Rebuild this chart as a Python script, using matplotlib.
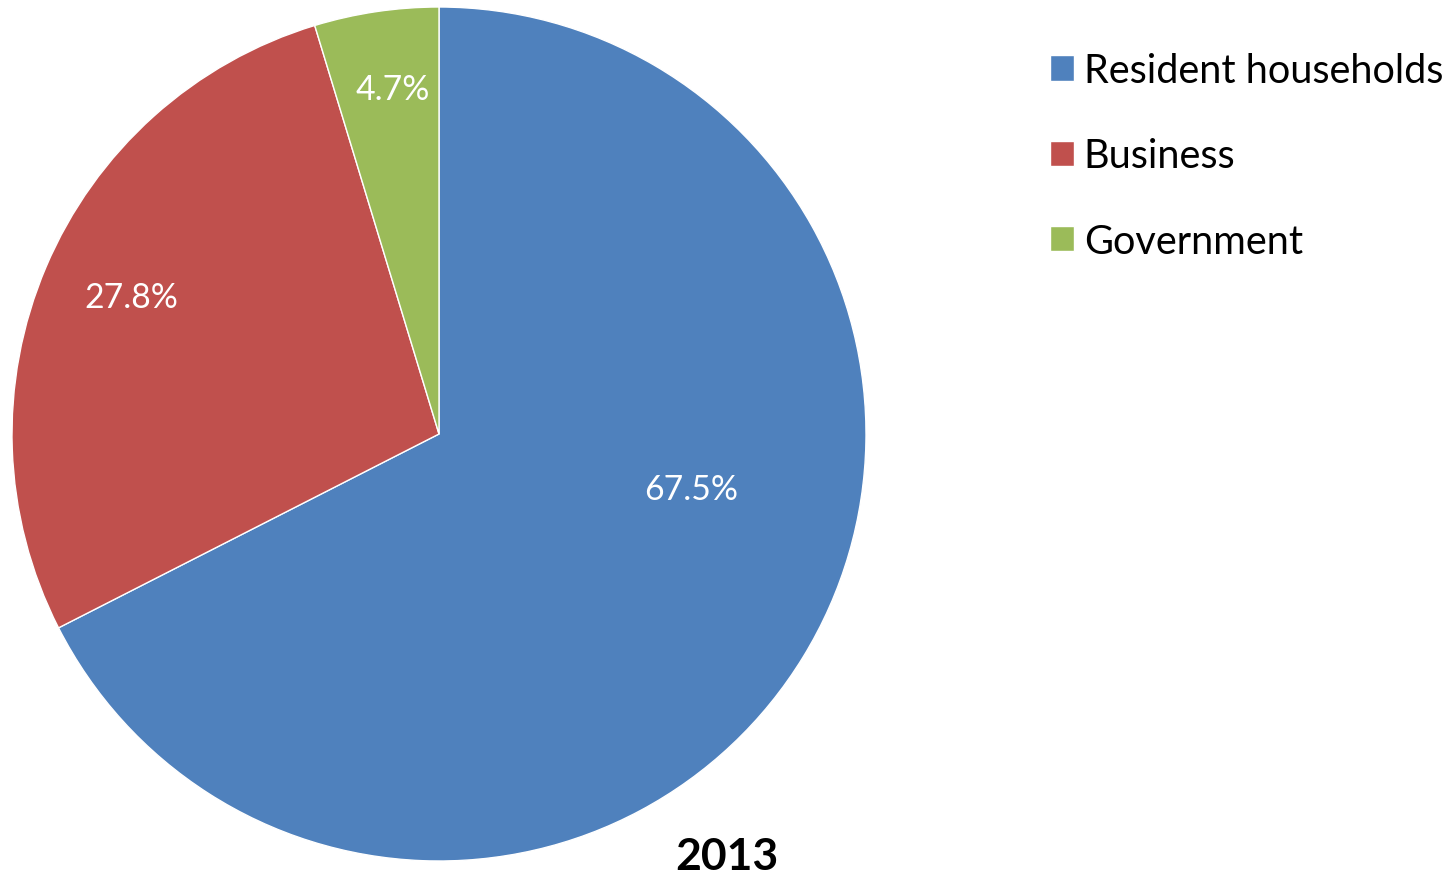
import matplotlib
matplotlib.use("Agg")
import matplotlib.pyplot as plt

categories = ["Resident households", "Business", "Government"]
shares = [67.5, 27.8, 4.7]
colors = ["#4F81BD", "#C0504D", "#9BBB59"]
title = "2013"

# label positions (in pie-radius units), as placed in reference
label_pos = [(0.590, -0.129), (-0.721, 0.321), (-0.108, 0.808)]

plt.rcParams['font.family'] = ['Lato', 'DejaVu Sans']

W, H = 1453, 878
fig = plt.figure(figsize=(W / 100, H / 100), dpi=100)
cx, cy, r = 439, 435, 427
ax = fig.add_axes([(cx - r) / W, 1 - (cy + r) / H, 2 * r / W, 2 * r / H])
wedges, _ = ax.pie(shares, colors=colors, startangle=90, counterclock=False,
                   radius=1, wedgeprops=dict(edgecolor="white", linewidth=1.0))
ax.set_xlim(-1, 1)
ax.set_ylim(-1, 1)
ax.set_aspect("equal")
ax.axis("off")

for v, (x, y) in zip(shares, label_pos):
    ax.text(x, y, f"{v:.1f}%", color="white", fontsize=24.3, ha="center", va="center")

fig.text(727 / W, 1 - 857 / H, title, fontsize=32, fontweight="bold", ha="center", va="center")

leg = fig.legend(wedges, categories, loc="upper left", bbox_to_anchor=(1050 / W, 1 - 53 / H),
                 frameon=False, fontsize=28.5, handlelength=0.6, handleheight=0.6,
                 handletextpad=0.25, labelspacing=1.22, borderaxespad=0, borderpad=0)

fig.savefig("out.png", dpi=100)
